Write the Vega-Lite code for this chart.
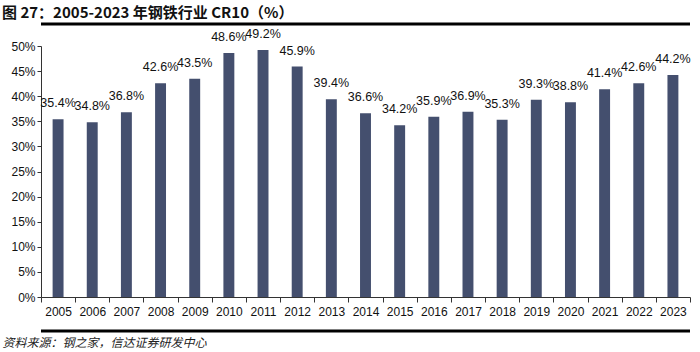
{
  "$schema": "https://vega.github.io/schema/vega-lite/v6.json",
  "width": 649,
  "height": 251,
  "autosize": {"type": "none"},
  "padding": {"left": 41, "top": 46, "right": 10, "bottom": 55},
  "background": "#ffffff",
  "title": {
    "text": "图 27：2005-2023 年钢铁行业 CR10（%）",
    "anchor": "start",
    "frame": "group",
    "dx": -39,
    "offset": 2,
    "font": "Noto Sans CJK SC",
    "fontSize": 15,
    "fontWeight": "bold",
    "color": "#111111"
  },
  "config": {"view": {"stroke": null}},
  "data": {
    "values": [
      {"year": "2005", "v": 0.354},
      {"year": "2006", "v": 0.348},
      {"year": "2007", "v": 0.368},
      {"year": "2008", "v": 0.426},
      {"year": "2009", "v": 0.435},
      {"year": "2010", "v": 0.486},
      {"year": "2011", "v": 0.492},
      {"year": "2012", "v": 0.459},
      {"year": "2013", "v": 0.394},
      {"year": "2014", "v": 0.366},
      {"year": "2015", "v": 0.342},
      {"year": "2016", "v": 0.359},
      {"year": "2017", "v": 0.369},
      {"year": "2018", "v": 0.353},
      {"year": "2019", "v": 0.393},
      {"year": "2020", "v": 0.388},
      {"year": "2021", "v": 0.414},
      {"year": "2022", "v": 0.426},
      {"year": "2023", "v": 0.442}
    ]
  },
  "encoding": {
    "x": {
      "field": "year",
      "type": "ordinal",
      "scale": {"paddingInner": 0, "paddingOuter": 0},
      "axis": {
        "title": "资料来源：钢之家，信达证券研发中心",
        "titleAnchor": "start",
        "titleX": -39,
        "titleY": 45,
        "titleBaseline": "middle",
        "titleFont": "Noto Sans CJK SC",
        "titleFontSize": 12,
        "titleFontWeight": "normal",
        "titleFontStyle": "italic",
        "titleColor": "#222222",
        "labelAngle": 0,
        "labelFont": "Liberation Sans",
        "labelFontSize": 12,
        "labelColor": "#111111",
        "labelPadding": 4,
        "tickBand": "extent",
        "tickSize": 5,
        "tickColor": "#333333",
        "domainColor": "#333333",
        "grid": false
      }
    },
    "y": {
      "field": "v",
      "type": "quantitative",
      "scale": {"domain": [0, 0.5]},
      "axis": {
        "title": null,
        "format": ".0%",
        "values": [0, 0.05, 0.1, 0.15, 0.2, 0.25, 0.3, 0.35, 0.4, 0.45, 0.5],
        "labelFont": "Liberation Sans",
        "labelFontSize": 12,
        "labelColor": "#111111",
        "tickSize": 4,
        "tickColor": "#333333",
        "domainColor": "#333333",
        "grid": false
      }
    }
  },
  "layer": [
    {
      "mark": {"type": "bar", "width": {"band": 0.32}, "color": "#444F6E"}
    },
    {
      "mark": {
        "type": "text",
        "dy": -16,
        "font": "Liberation Sans",
        "fontSize": 12.5,
        "color": "#111111"
      },
      "encoding": {"text": {"field": "v", "format": ".1%"}}
    },
    {
      "data": {"values": [{"p": 0.5438}, {"p": -0.0677}]},
      "mark": {"type": "rule", "clip": false, "strokeWidth": 3, "color": "#000000"},
      "encoding": {"y": {"field": "p", "type": "quantitative"}, "x": null}
    }
  ]
}
